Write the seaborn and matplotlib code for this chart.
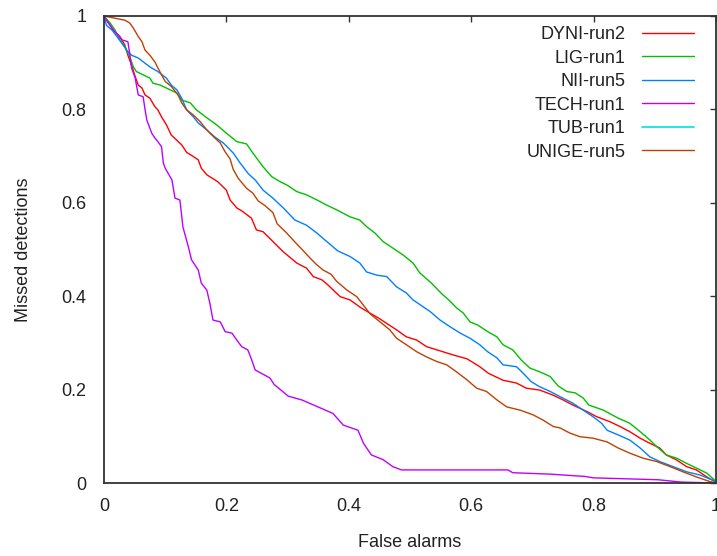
import matplotlib
matplotlib.use("Agg")
import matplotlib.pyplot as plt
import seaborn as sns

# ROC-style curves: false alarms vs missed detections
dyni_x = [0, 0.015, 0.026, 0.034, 0.039, 0.045, 0.051, 0.056, 0.062, 0.067, 0.075, 0.083, 0.088, 0.094,
          0.102, 0.110, 0.119, 0.127, 0.135, 0.146, 0.154, 0.159, 0.168, 0.186, 0.200, 0.206, 0.217, 0.227,
          0.241, 0.249, 0.260, 0.276, 0.293, 0.315, 0.331, 0.342, 0.356, 0.366, 0.377, 0.386, 0.402, 0.42,
          0.45, 0.478, 0.494, 0.511, 0.527, 0.549, 0.571, 0.593, 0.603, 0.614, 0.628, 0.652, 0.674, 0.690,
          0.712, 0.734, 0.750, 0.766, 0.789, 0.805, 0.827, 0.843, 0.859, 0.876, 0.892, 0.908, 0.919, 0.936,
          0.952, 0.968, 0.985, 0.998, 1.0]
dyni_y = [1.0, 0.97, 0.956, 0.938, 0.916, 0.895, 0.87, 0.852, 0.846, 0.831, 0.824, 0.806, 0.799, 0.784,
          0.767, 0.745, 0.734, 0.724, 0.708, 0.699, 0.692, 0.674, 0.66, 0.645, 0.627, 0.606, 0.589, 0.581,
          0.567, 0.542, 0.538, 0.517, 0.495, 0.471, 0.46, 0.442, 0.435, 0.424, 0.41, 0.399, 0.392, 0.375,
          0.352, 0.328, 0.313, 0.306, 0.292, 0.283, 0.274, 0.266, 0.258, 0.249, 0.235, 0.220, 0.214, 0.203,
          0.199, 0.188, 0.178, 0.167, 0.153, 0.142, 0.131, 0.121, 0.11, 0.096, 0.085, 0.075, 0.06, 0.049,
          0.035, 0.028, 0.013, 0.003, 0.0]

lig_x = [0, 0.01, 0.018, 0.026, 0.034, 0.042, 0.048, 0.053, 0.064, 0.075, 0.080, 0.092, 0.108, 0.119,
         0.127, 0.141, 0.151, 0.168, 0.184, 0.200, 0.217, 0.233, 0.243, 0.260, 0.274, 0.288, 0.299, 0.315,
         0.331, 0.348, 0.364, 0.380, 0.402, 0.418, 0.429, 0.443, 0.456, 0.472, 0.489, 0.505, 0.516, 0.535,
         0.552, 0.565, 0.576, 0.587, 0.598, 0.611, 0.627, 0.642, 0.652, 0.668, 0.682, 0.696, 0.712, 0.729,
         0.742, 0.756, 0.770, 0.783, 0.792, 0.816, 0.840, 0.859, 0.876, 0.892, 0.903, 0.919, 0.936, 0.952,
         0.968, 0.985, 0.998, 1.0]
lig_y = [1.0, 0.985, 0.97, 0.949, 0.934, 0.913, 0.891, 0.881, 0.874, 0.867, 0.856, 0.852, 0.842, 0.835,
         0.82, 0.814, 0.799, 0.782, 0.767, 0.749, 0.731, 0.726, 0.707, 0.677, 0.656, 0.645, 0.638, 0.624,
         0.617, 0.606, 0.595, 0.585, 0.570, 0.563, 0.549, 0.535, 0.517, 0.503, 0.488, 0.471, 0.45, 0.428,
         0.405, 0.390, 0.375, 0.364, 0.345, 0.338, 0.324, 0.313, 0.296, 0.285, 0.263, 0.246, 0.238, 0.228,
         0.208, 0.196, 0.193, 0.182, 0.167, 0.156, 0.139, 0.128, 0.11, 0.092, 0.078, 0.06, 0.053, 0.042,
         0.032, 0.021, 0.006, 0.0]

nii_x = [0, 0.004, 0.013, 0.021, 0.029, 0.037, 0.045, 0.056, 0.064, 0.075, 0.088, 0.102, 0.110, 0.119,
         0.127, 0.135, 0.146, 0.154, 0.168, 0.181, 0.195, 0.211, 0.222, 0.236, 0.247, 0.260, 0.276, 0.293,
         0.312, 0.331, 0.348, 0.364, 0.382, 0.402, 0.418, 0.429, 0.446, 0.462, 0.478, 0.494, 0.505, 0.533,
         0.549, 0.565, 0.582, 0.598, 0.614, 0.627, 0.642, 0.652, 0.674, 0.685, 0.698, 0.712, 0.729, 0.745,
         0.766, 0.783, 0.799, 0.813, 0.822, 0.840, 0.859, 0.876, 0.892, 0.908, 0.930, 0.952, 0.974, 0.995, 1.0]
nii_y = [1.0, 0.98, 0.97, 0.956, 0.942, 0.927, 0.916, 0.91, 0.902, 0.891, 0.881, 0.867, 0.852, 0.842,
         0.824, 0.799, 0.784, 0.771, 0.756, 0.741, 0.728, 0.707, 0.686, 0.662, 0.649, 0.627, 0.61, 0.589,
         0.563, 0.552, 0.535, 0.517, 0.497, 0.485, 0.471, 0.452, 0.445, 0.442, 0.42, 0.407, 0.392, 0.367,
         0.349, 0.335, 0.321, 0.31, 0.296, 0.281, 0.268, 0.253, 0.249, 0.235, 0.217, 0.206, 0.196, 0.185,
         0.171, 0.156, 0.142, 0.128, 0.113, 0.103, 0.092, 0.075, 0.056, 0.046, 0.035, 0.024, 0.017, 0.006, 0.0]

tech_x = [0, 0.002, 0.015, 0.023, 0.029, 0.039, 0.042, 0.045, 0.051, 0.053, 0.056, 0.064, 0.067, 0.070,
          0.078, 0.083, 0.088, 0.094, 0.097, 0.100, 0.111, 0.116, 0.124, 0.129, 0.138, 0.143, 0.154, 0.159,
          0.168, 0.173, 0.178, 0.190, 0.198, 0.209, 0.217, 0.225, 0.235, 0.241, 0.247, 0.271, 0.278, 0.301,
          0.323, 0.353, 0.374, 0.391, 0.415, 0.424, 0.437, 0.456, 0.472, 0.486, 0.66, 0.668, 0.729, 0.786,
          0.80, 0.905, 0.943, 1.0]
tech_y = [1.0, 0.995, 0.97, 0.959, 0.949, 0.945, 0.92, 0.889, 0.867, 0.852, 0.831, 0.827, 0.80, 0.777,
          0.749, 0.739, 0.731, 0.72, 0.685, 0.674, 0.649, 0.61, 0.606, 0.548, 0.505, 0.478, 0.456, 0.428,
          0.413, 0.385, 0.349, 0.345, 0.324, 0.321, 0.306, 0.292, 0.285, 0.265, 0.242, 0.225, 0.211, 0.186,
          0.178, 0.161, 0.149, 0.124, 0.113, 0.085, 0.06, 0.05, 0.035, 0.028, 0.028, 0.022, 0.019, 0.014,
          0.011, 0.007, 0.002, 0.0]

# TUB-run1 shows up in the key only, no visible curve in the plot
tub_x = []
tub_y = []

unige_x = [0, 0.034, 0.042, 0.048, 0.056, 0.062, 0.067, 0.075, 0.083, 0.088, 0.094, 0.100, 0.110, 0.121,
           0.127, 0.135, 0.146, 0.157, 0.168, 0.181, 0.190, 0.198, 0.206, 0.211, 0.219, 0.233, 0.243, 0.252,
           0.263, 0.276, 0.283, 0.298, 0.312, 0.323, 0.335, 0.347, 0.358, 0.371, 0.380, 0.397, 0.413, 0.435,
           0.467, 0.478, 0.494, 0.511, 0.527, 0.544, 0.560, 0.576, 0.593, 0.609, 0.625, 0.642, 0.658, 0.680,
           0.701, 0.717, 0.734, 0.745, 0.761, 0.778, 0.799, 0.822, 0.840, 0.859, 0.881, 0.903, 0.925, 0.946,
           0.968, 0.990, 1.0]
unige_y = [1.0, 0.991, 0.985, 0.974, 0.956, 0.945, 0.927, 0.916, 0.902, 0.889, 0.874, 0.86, 0.849, 0.831,
           0.814, 0.799, 0.788, 0.774, 0.756, 0.739, 0.728, 0.709, 0.694, 0.672, 0.653, 0.631, 0.621, 0.604,
           0.594, 0.579, 0.555, 0.536, 0.516, 0.501, 0.484, 0.468, 0.456, 0.447, 0.432, 0.413, 0.399, 0.362,
           0.328, 0.31, 0.296, 0.281, 0.27, 0.26, 0.253, 0.238, 0.221, 0.203, 0.196, 0.178, 0.163, 0.156,
           0.146, 0.135, 0.121, 0.118, 0.107, 0.099, 0.096, 0.088, 0.075, 0.064, 0.053, 0.046, 0.035, 0.024,
           0.013, 0.003, 0.0]

runs = ["DYNI-run2", "LIG-run1", "NII-run5", "TECH-run1", "TUB-run1", "UNIGE-run5"]
colors = ["#ff0000", "#00c000", "#0080ff", "#c000ff", "#00e0e0", "#c04000"]
series = [(dyni_x, dyni_y), (lig_x, lig_y), (nii_x, nii_y), (tech_x, tech_y), (tub_x, tub_y), (unige_x, unige_y)]

tick_vals = [0, 0.2, 0.4, 0.6, 0.8, 1]
tick_labels = ["0", "0.2", "0.4", "0.6", "0.8", "1"]

sns.set_theme(style="white")
plt.rcParams["font.family"] = ["Liberation Sans", "DejaVu Sans"]

fig = plt.figure(figsize=(7.17, 5.56), dpi=100)
ax = fig.add_axes([104 / 717, 73 / 556, 612 / 717, 467 / 556])

for name, col, (xs, ys) in zip(runs, colors, series):
    if len(xs) == 0:
        ax.plot([], [], color=col, lw=1.2, label=name)
        continue
    sns.lineplot(x=xs, y=ys, ax=ax, color=col, lw=1.0, sort=False, estimator=None, label=name)

ax.set_xlim(0, 1)
ax.set_ylim(0, 1)
ax.set_xticks(tick_vals)
ax.set_xticklabels(tick_labels)
ax.set_yticks(tick_vals)
ax.set_yticklabels(tick_labels)
ax.tick_params(axis="both", direction="in", length=4.5, width=1.0, color="#333333",
               top=True, right=True, labelsize=13, labelcolor="#222222")
ax.tick_params(axis="x", pad=10.5)
ax.tick_params(axis="y", pad=12.5)
for s in ax.spines.values():
    s.set_color("#333333")
    s.set_linewidth(1.3)

ax.set_xlabel("False alarms", fontsize=13, color="#222222", labelpad=14)
ax.set_ylabel("Missed detections", fontsize=13, color="#222222", labelpad=21)

leg = ax.legend(loc="upper right", bbox_to_anchor=(0.964, 0.978), frameon=False, markerfirst=False,
                fontsize=13, handlelength=2.9, handletextpad=0.9, labelspacing=0.36,
                borderpad=0, borderaxespad=0)
for t in leg.get_texts():
    t.set_color("#222222")

fig.savefig("out.png", dpi=100)
